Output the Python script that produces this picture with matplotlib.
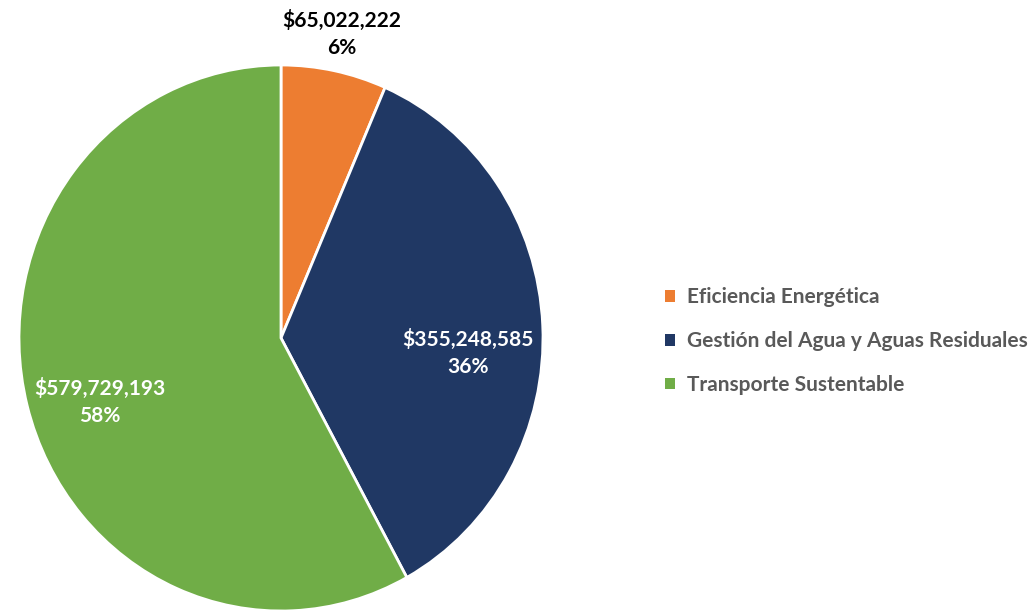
import numpy as np
import matplotlib.pyplot as plt
from matplotlib.patches import Patch

# Data
categories = ['Eficiencia Energética', 'Gestión del Agua y Aguas Residuales', 'Transporte Sustentable']
amounts = [65022222, 355248585, 579729193]
percents = [6, 36, 58]
colors = ['#ED7D31', '#203864', '#70AD47']

plt.rcParams['font.family'] = ['Lato', 'DejaVu Sans']

fig = plt.figure(figsize=(10.35, 6.16), dpi=100)
ax = fig.add_axes([19 / 1035, 5 / 616, 524 / 1035, 546 / 616])

wedges, _ = ax.pie(amounts, colors=colors, startangle=90, counterclock=False,
                   wedgeprops=dict(edgecolor='white', linewidth=2))
ax.set_aspect('auto')
ax.set_xlim(-1, 1)
ax.set_ylim(-1, 1)

# label radius, angle nudge (deg) and text colour per slice
dists = [1.137, 0.715, 0.73]
nudges = [0, -7, 4.4]
txt_colors = ['black', 'white', 'white']
for w, amt, pct, d, nd, c in zip(wedges, amounts, percents, dists, nudges, txt_colors):
    ang = np.deg2rad((w.theta1 + w.theta2) / 2 + nd)
    ax.text(d * np.cos(ang), d * np.sin(ang), f'${amt:,}\n{pct}%',
            ha='center', va='center', fontsize=15, fontweight='bold',
            color=c, linespacing=1.4, clip_on=False)

handles = [Patch(facecolor=c, edgecolor='none') for c in colors]
fig.legend(handles, categories, loc='center left', bbox_to_anchor=(646 / 1035, 1 - 341 / 616),
           frameon=False, handlelength=0.5, handleheight=0.5,
           handletextpad=0.55, labelspacing=1.15,
           prop=dict(family='Lato', weight='bold', size=15), labelcolor='#595959')

fig.savefig('out.png', dpi=100)
